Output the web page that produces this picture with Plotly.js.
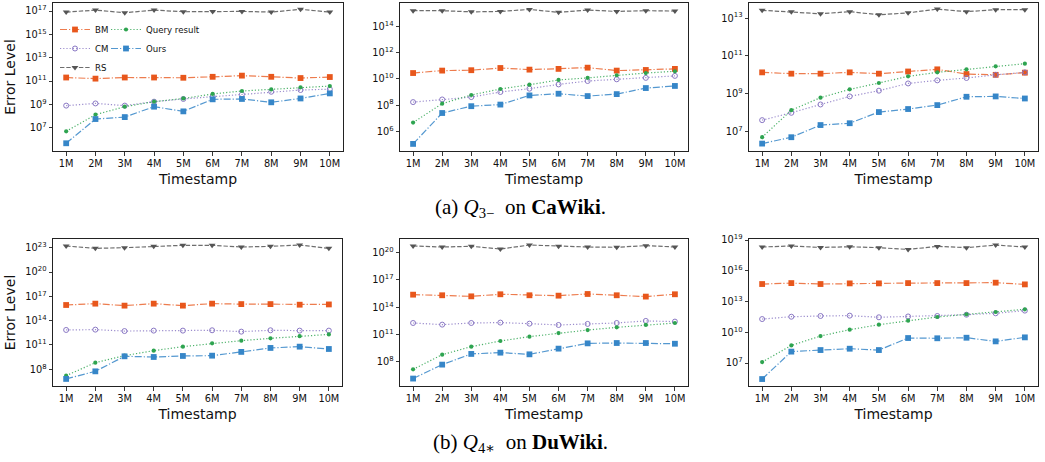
<!DOCTYPE html>
<html>
<head>
<meta charset="utf-8">
<script src="https://cdn.plot.ly/plotly-3.0.1.min.js"></script>
<style>
  html, body { margin: 0; padding: 0; background: #ffffff; }
  #chart { width: 1045px; height: 462px; }
</style>
</head>
<body>
<div id="chart"></div>
<script>
// ---------------- DATA ----------------
const timestamps = ['1M', '2M', '3M', '4M', '5M', '6M', '7M', '8M', '9M', '10M'];
const seriesNames = ['BM', 'CM', 'RS', 'Query result', 'Ours'];

// (a) Q3- on CaWiki : three panels
const caWiki1_BM    = [2.0e11, 1.6e11, 2.0e11, 2.0e11, 1.9e11, 2.3e11, 2.9e11, 2.3e11, 1.8e11, 2.2e11];
const caWiki1_CM    = [7.8e8, 1.2e9, 7.8e8, 1.7e9, 2.9e9, 4.6e9, 7.2e9, 1.2e10, 1.7e10, 2.0e10];
const caWiki1_RS    = [8.1e16, 1.2e17, 7.2e16, 1.2e17, 8.7e16, 9.3e16, 9.3e16, 8.1e16, 1.4e17, 8.1e16];
const caWiki1_Query = [4.9e6, 1.3e8, 6.3e8, 1.7e9, 3.2e9, 7.8e9, 1.4e10, 1.9e10, 2.9e10, 3.7e10];
const caWiki1_Ours  = [4.6e5, 5.5e7, 8.1e7, 6.3e8, 2.5e8, 2.7e9, 2.9e9, 1.5e9, 3.2e9, 8.7e9];

const caWiki2_BM    = [2.8e10, 4.3e10, 4.6e10, 6.8e10, 5.1e10, 5.8e10, 7.2e10, 4.3e10, 4.8e10, 5.8e10];
const caWiki2_CM    = [1.7e8, 2.7e8, 4.1e8, 1.0e9, 1.8e9, 3.8e9, 6.9e9, 9.3e9, 1.2e10, 1.7e10];
const caWiki2_RS    = [1.6e15, 1.6e15, 1.3e15, 1.4e15, 2.0e15, 1.2e15, 1.8e15, 1.4e15, 1.6e15, 1.5e15];
const caWiki2_Query = [4.7e6, 1.3e8, 5.9e8, 1.7e9, 3.6e9, 8.3e9, 1.2e10, 1.9e10, 2.8e10, 3.8e10];
const caWiki2_Ours  = [1.1e5, 2.5e7, 8.3e7, 1.1e8, 5.5e8, 7.4e8, 4.9e8, 6.9e8, 2.0e9, 2.9e9];

const caWiki3_BM    = [1.35e10, 1.15e10, 1.15e10, 1.35e10, 1.15e10, 1.5e10, 1.95e10, 1.1e10, 1.0e10, 1.3e10];
const caWiki3_CM    = [4.0e7, 9.8e7, 2.7e8, 7.2e8, 1.45e9, 3.5e9, 5.1e9, 6.8e9, 1.0e10, 1.35e10];
const caWiki3_RS    = [2.6e13, 2.2e13, 1.7e13, 2.2e13, 1.5e13, 1.9e13, 3.0e13, 2.2e13, 2.8e13, 2.8e13];
const caWiki3_Query = [5.0e6, 1.35e8, 6.2e8, 1.7e9, 3.7e9, 8.3e9, 1.35e10, 1.95e10, 2.8e10, 3.9e10];
const caWiki3_Ours  = [2.3e6, 5.0e6, 2.2e7, 2.75e7, 1.07e8, 1.55e8, 2.5e8, 6.9e8, 7.2e8, 5.6e8];

// (b) Q4* on DuWiki : three panels
const duWiki1_BM    = [8.5e15, 1.25e16, 7.1e15, 1.25e16, 7.1e15, 1.25e16, 1.1e16, 1.1e16, 9.3e15, 1.0e16];
const duWiki1_CM    = [7.1e12, 7.8e12, 5.2e12, 5.9e12, 5.9e12, 6.5e12, 4.4e12, 6.5e12, 5.9e12, 5.9e12];
const duWiki1_RS    = [1.6e23, 8.3e22, 1.0e23, 1.45e23, 1.95e23, 1.95e23, 1.2e23, 1.45e23, 2.1e23, 8.3e22];
const duWiki1_Query = [1.65e7, 6.6e8, 4.8e9, 2.0e10, 6.2e10, 1.6e11, 3.4e11, 6.6e11, 1.2e12, 2.0e12];
const duWiki1_Ours  = [6.5e6, 5.6e7, 4.0e9, 3.3e9, 4.4e9, 4.8e9, 1.4e10, 4.3e10, 6.2e10, 3.2e10];

const duWiki2_BM    = [2.45e15, 2.1e15, 1.6e15, 2.7e15, 2.1e15, 1.9e15, 2.9e15, 2.1e15, 1.5e15, 2.7e15];
const duWiki2_CM    = [1.9e12, 1.25e12, 1.9e12, 2.1e12, 1.6e12, 1.15e12, 1.5e12, 1.9e12, 3.2e12, 2.7e12];
const duWiki2_RS    = [5.4e20, 4.2e20, 5.0e20, 2.5e20, 6.9e20, 5.0e20, 4.2e20, 3.9e20, 5.9e20, 4.2e20];
const duWiki2_Query = [1.55e7, 6.3e8, 4.8e9, 2.0e10, 6.0e10, 1.5e11, 3.2e11, 6.3e11, 1.15e12, 1.9e12];
const duWiki2_Ours  = [1.5e6, 5.1e7, 7.6e8, 1.05e9, 6.9e8, 2.9e9, 1.1e10, 1.2e10, 1.2e10, 1.0e10];

const duWiki3_BM    = [5.1e14, 6.3e14, 5.1e14, 5.9e14, 5.9e14, 6.3e14, 6.3e14, 6.3e14, 6.9e14, 4.7e14];
const duWiki3_CM    = [1.95e11, 3.3e11, 3.9e11, 4.2e11, 2.9e11, 3.5e11, 3.9e11, 5.2e11, 7.1e11, 1.3e12];
const duWiki3_RS    = [2.1e18, 2.6e18, 1.9e18, 2.2e18, 1.8e18, 1.2e18, 2.4e18, 1.8e18, 3.2e18, 2.1e18];
const duWiki3_Query = [1.25e7, 5.2e8, 4.3e9, 1.8e10, 5.5e10, 1.35e11, 3.1e11, 5.6e11, 9.5e11, 1.75e12];
const duWiki3_Ours  = [2.75e5, 1.3e8, 1.85e8, 2.5e8, 1.85e8, 2.75e9, 2.6e9, 2.95e9, 1.3e9, 3.2e9];

// tick label exponents (labels read as 10^n) per panel
const ticksCa1 = [7, 9, 11, 13, 15, 17];
const ticksCa2 = [6, 8, 10, 12, 14];
const ticksCa3 = [7, 9, 11, 13];
const ticksDu1 = [8, 11, 14, 17, 20, 23];
const ticksDu2 = [8, 11, 14, 17, 20];
const ticksDu3 = [7, 10, 13, 16, 19];

const xTitle = 'Timestamp';
const yTitle = 'Error Level';
const captionA = '(a) <i>Q</i><sub>3\u2212</sub>\u00a0 on <b>CaWiki</b>.';
const captionB = '(b) <i>Q</i><sub>4\u2217</sub>\u00a0 on <b>DuWiki</b>.';

// ---------------- STYLE ----------------
const W = 1045, H = 462;
const FONT = 'DejaVu Sans, Liberation Sans, sans-serif';
const SERIF = 'Liberation Serif, DejaVu Serif, serif';
const style = {
  'BM':           { color: '#e8571c', line: 'rgba(232,87,28,0.78)',  dash: '7px,2px,1.2px,2px', symbol: 'square',        size: 5.8 },
  'CM':           { color: '#8a78c4', line: 'rgba(138,120,196,0.85)', dash: '1.2px,2px',         symbol: 'circle-open',   size: 5 },
  'RS':           { color: '#555555', line: 'rgba(85,85,85,0.85)',   dash: '4.4px,1.9px',       symbol: 'triangle-down', size: 6 },
  'Query result': { color: '#2ea450', line: 'rgba(46,164,80,0.85)',  dash: '1.2px,2px',         symbol: 'circle',        size: 4.2 },
  'Ours':         { color: '#3686c8', line: 'rgba(54,134,200,0.85)', dash: '7px,2px,1.2px,2px', symbol: 'square',        size: 5.8 }
};

const panels = [
  { data: { 'BM': caWiki1_BM, 'CM': caWiki1_CM, 'RS': caWiki1_RS, 'Query result': caWiki1_Query, 'Ours': caWiki1_Ours },
    ticks: ticksCa1, range: [5.0, 17.69], px: [53, 343], py: [3, 151], ytitle: true, legend: true },
  { data: { 'BM': caWiki2_BM, 'CM': caWiki2_CM, 'RS': caWiki2_RS, 'Query result': caWiki2_Query, 'Ours': caWiki2_Ours },
    ticks: ticksCa2, range: [4.5, 15.79], px: [400, 688], py: [3, 151] },
  { data: { 'BM': caWiki3_BM, 'CM': caWiki3_CM, 'RS': caWiki3_RS, 'Query result': caWiki3_Query, 'Ours': caWiki3_Ours },
    ticks: ticksCa3, range: [5.97, 13.8], px: [749, 1038], py: [3, 151] },
  { data: { 'BM': duWiki1_BM, 'CM': duWiki1_CM, 'RS': duWiki1_RS, 'Query result': duWiki1_Query, 'Ours': duWiki1_Ours },
    ticks: ticksDu1, range: [5.94, 24.07], px: [53, 342], py: [239, 386], ytitle: true },
  { data: { 'BM': duWiki2_BM, 'CM': duWiki2_CM, 'RS': duWiki2_RS, 'Query result': duWiki2_Query, 'Ours': duWiki2_Ours },
    ticks: ticksDu2, range: [5.36, 21.5], px: [400, 688], py: [239, 386] },
  { data: { 'BM': duWiki3_BM, 'CM': duWiki3_CM, 'RS': duWiki3_RS, 'Query result': duWiki3_Query, 'Ours': duWiki3_Ours },
    ticks: ticksDu3, range: [4.76, 19.1], px: [749, 1038], py: [239, 386] }
];

const traceOrder = ['BM', 'CM', 'RS', 'Query result', 'Ours'];
const legendOf = { 'BM': 'legend', 'CM': 'legend', 'RS': 'legend', 'Query result': 'legend2', 'Ours': 'legend2' };

const traces = [];
const legendBase = {
  xanchor: 'left', yanchor: 'top',
  bgcolor: 'rgba(0,0,0,0)', borderwidth: 0, font: { family: FONT, size: 8.6, color: '#111' },
  tracegroupgap: 0, itemwidth: 30
};
const layout = {
  width: W, height: H,
  margin: { l: 0, r: 0, t: 0, b: 0 },
  paper_bgcolor: '#ffffff', plot_bgcolor: '#ffffff',
  font: { family: FONT, size: 10, color: '#111' },
  showlegend: true,
  legend: Object.assign({}, legendBase, { x: 55 / W, y: 1 - 15 / H }),
  legend2: Object.assign({}, legendBase, { x: 106 / W, y: 1 - 15 / H }),
  annotations: [
    { text: captionA, x: 520 / W, y: 1 - 208 / H, xref: 'paper', yref: 'paper', xanchor: 'center', yanchor: 'middle',
      showarrow: false, font: { family: SERIF, size: 21, color: '#000' } },
    { text: captionB, x: 520 / W, y: 1 - 443 / H, xref: 'paper', yref: 'paper', xanchor: 'center', yanchor: 'middle',
      showarrow: false, font: { family: SERIF, size: 21, color: '#000' } }
  ]
};

panels.forEach((p, i) => {
  const n = i + 1;
  const xa = 'x' + (n === 1 ? '' : n), ya = 'y' + (n === 1 ? '' : n);
  const xk = 'xaxis' + (n === 1 ? '' : n), yk = 'yaxis' + (n === 1 ? '' : n);
  traceOrder.forEach(name => {
    const s = style[name];
    traces.push({
      type: 'scatter', mode: 'lines+markers', name: name,
      x: timestamps, y: p.data[name], xaxis: xa, yaxis: ya,
      line: { color: s.line, width: 1.2, dash: s.dash },
      marker: { color: s.color, symbol: s.symbol, size: s.size, line: { color: s.color, width: s.symbol === 'circle-open' ? 1 : 0 } },
      showlegend: !!p.legend, legend: legendOf[name], hoverinfo: 'x+y+name'
    });
  });
  layout[xk] = {
    domain: [p.px[0] / W, p.px[1] / W], anchor: ya,
    type: 'category', range: [-0.45, 9.45],
    showline: true, mirror: true, linecolor: '#222', linewidth: 1,
    ticks: 'outside', ticklen: 3.5, tickwidth: 0.9, tickcolor: '#222',
    showgrid: false, zeroline: false,
    tickfont: { family: FONT, size: 9.8, color: '#111' },
    title: { text: xTitle, font: { family: FONT, size: 14, color: '#111' }, standoff: 5 }
  };
  layout[yk] = {
    domain: [1 - p.py[1] / H, 1 - p.py[0] / H], anchor: xa,
    type: 'log', range: p.range,
    tickvals: p.ticks.map(e => Math.pow(10, e)),
    ticktext: p.ticks.map(e => '10<sup>' + e + '</sup>'),
    showline: true, mirror: true, linecolor: '#222', linewidth: 1,
    ticks: 'outside', ticklen: 3.5, tickwidth: 0.9, tickcolor: '#222',
    showgrid: false, zeroline: false,
    tickfont: { family: FONT, size: 9.8, color: '#111' },
    title: p.ytitle ? { text: yTitle, font: { family: FONT, size: 14, color: '#111' }, standoff: 6 } : { text: '' }
  };
});

Plotly.newPlot('chart', traces, layout, { staticPlot: true, displayModeBar: false });
</script>
</body>
</html>
